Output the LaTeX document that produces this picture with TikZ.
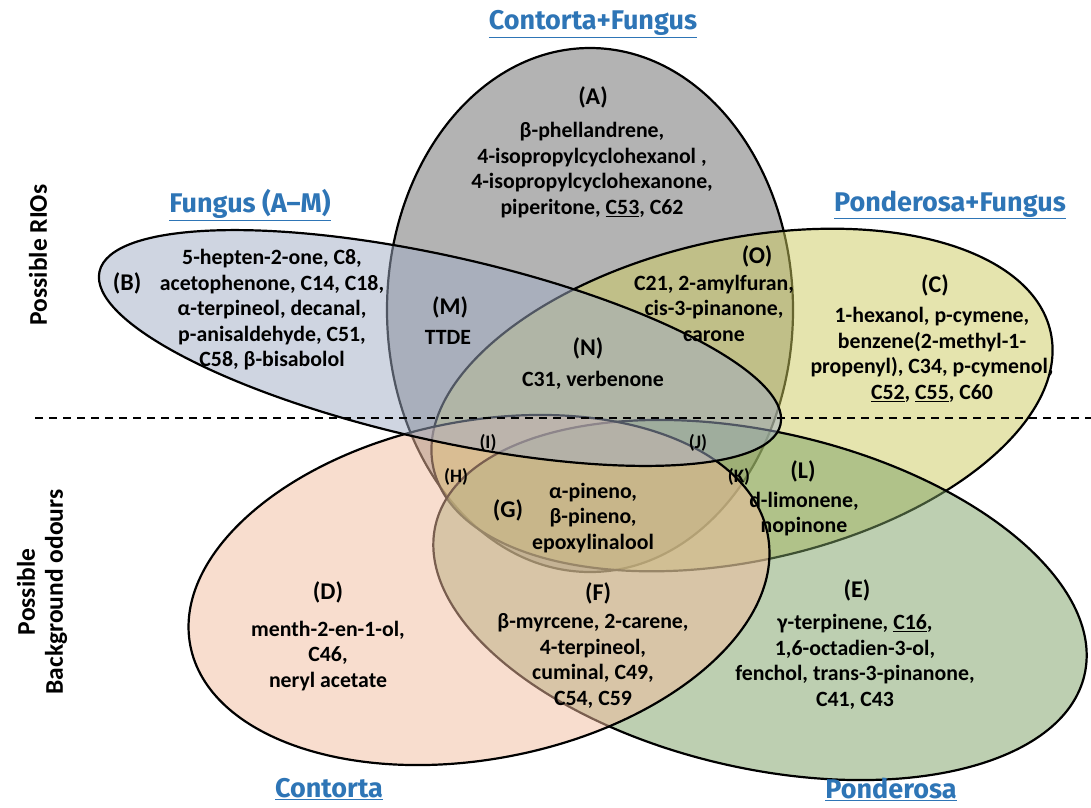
\documentclass[tikz,border=0pt]{standalone}
\usepackage{fontspec}
\setmainfont{Carlito}
\newfontfamily\titlefont{Fira Sans}
\definecolor{cA}{RGB}{105,105,105}
\definecolor{cB}{RGB}{161,173,197}
\definecolor{cC}{RGB}{205,203,95}
\definecolor{cD}{RGB}{243,189,159}
\definecolor{cE}{RGB}{125,161,101}
\definecolor{ttl}{RGB}{46,117,182}
\begin{document}
\begin{tikzpicture}[x=1pt,y=-1pt,
  venn/.style={draw=black,line width=2.2pt,fill opacity=0.5},
  title/.style={font=\titlefont\bfseries\fontsize{27}{30}\selectfont,text=ttl,inner sep=0pt},
  lbl/.style={font=\bfseries\fontsize{24}{28}\selectfont,inner sep=0pt},
  slbl/.style={font=\bfseries\fontsize{19}{22}\selectfont,inner sep=0pt},
  txt/.style={font=\bfseries\fontsize{21.8}{25.5}\selectfont,align=center,inner sep=0pt},
  side/.style={font=\bfseries\fontsize{25.5}{28}\selectfont,align=center,inner sep=0pt,rotate=90},
  divider/.style={line width=1.3pt,dash pattern=on 8pt off 6pt}]
\useasboundingbox (0,0) rectangle (1091,807);
\fill[white] (0,0) rectangle (1091,807);
% ellipses
\path[venn,fill=cA] (590,310) ellipse [x radius=203, y radius=262];
\path[venn,fill=cC,rotate around={12.4:(742,400)}] (742,400) ellipse [x radius=316, y radius=161];
\path[venn,fill=cE,rotate around={-13:(760,600)}] (760,600) ellipse [x radius=333, y radius=168];
\path[venn,fill=cD,rotate around={10.9:(479,590)}] (479,590) ellipse [x radius=294, y radius=169];
\path[venn,fill=cB,rotate around={-12.66:(440,348)}] (440,348) ellipse [x radius=349, y radius=92];
% divider
\coordinate (dl) at (35,418);
\coordinate (dr) at (1091,418);
\draw[divider] (dl) -- (dr);
% titles
\node[title] (tCF) at (593,24) {\underline{Contorta+Fungus}};
\node[title] (tF) at (250,205) {\underline{Fungus (A–M)}};
\node[title] (tPF) at (950,205) {\underline{Ponderosa+Fungus}};
\node[title] (tC) at (329,789) {\underline{Contorta}};
\node[title] (tP) at (891,789) {\underline{Ponderosa}};
% side labels
\node[side] (sR) at (38,255) {Possible RIOs};
\node[side] (sB) at (42,592) {Possible\\Background odours};
% region A
\node[lbl] (lA) at (593,97) {(A)};
\node[txt] (xA) at (592,170) {β-phellandrene,\\4-isopropylcyclohexanol ,\\4-isopropylcyclohexanone,\\piperitone, \underline{C53}, C62};
% region B
\node[lbl] (lB) at (127,283) {(B)};
\node[txt] (xB) at (272,310) {5-hepten-2-one, C8,\\acetophenone, C14, C18,\\α-terpineol, decanal,\\p-anisaldehyde, C51,\\C58, β-bisabolol};
% region C
\node[lbl] (lC) at (935,285) {(C)};
\node[txt] (xC) at (932,355) {1-hexanol, p-cymene,\\benzene(2-methyl-1-\\propenyl), C34, p-cymenol,\\\underline{C52}, \underline{C55}, C60};
% region D
\node[lbl] (lD) at (328,592) {(D)};
\node[txt] (xD) at (328,656) {menth-2-en-1-ol,\\C46,\\neryl acetate};
% region E
\node[lbl] (lE) at (857,590) {(E)};
\node[txt] (xE) at (855,662) {γ-terpinene, \underline{C16},\\1,6-octadien-3-ol,\\fenchol, trans-3-pinanone,\\C41, C43};
% region F
\node[lbl] (lF) at (598,593) {(F)};
\node[txt] (xF) at (593,661) {β-myrcene, 2-carene,\\4-terpineol,\\cuminal, C49,\\C54, C59};
% region G
\node[lbl] (lG) at (508,510) {(G)};
\node[txt] (xG) at (593,518) {α-pineno,\\β-pineno,\\epoxylinalool};
% small regions
\node[slbl] (lH) at (456,477) {(H)};
\node[slbl] (lI) at (488,443) {(I)};
\node[slbl] (lJ) at (698,443) {(J)};
\node[slbl] (lK) at (739,477) {(K)};
% region L
\node[lbl] (lL) at (803,471) {(L)};
\node[txt] (xL) at (804,514) {d-limonene,\\nopinone};
% region M
\node[lbl] (lM) at (450,307) {(M)};
\node[txt] (xM) at (448,337) {TTDE};
% region N
\node[lbl] (lN) at (588,348) {(N)};
\node[txt] (xN) at (593,380) {C31, verbenone};
% region O
\node[lbl] (lO) at (757,256) {(O)};
\node[txt] (xO) at (714,308) {C21, 2-amylfuran,\\cis-3-pinanone,\\carone};
\end{tikzpicture}
\end{document}
